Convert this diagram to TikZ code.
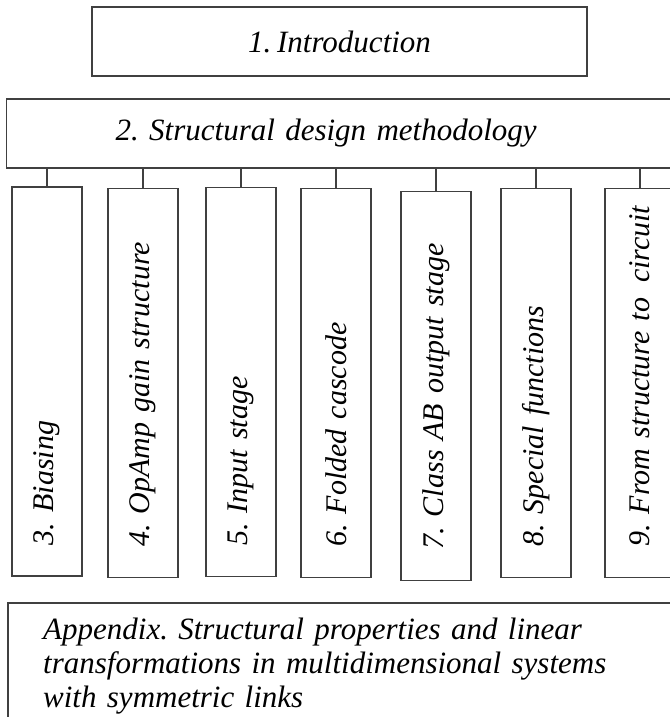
\documentclass[tikz,border=0pt]{standalone}
\usepackage{fontspec}
\setmainfont[WordSpace=0.75]{Liberation Serif}
\frenchspacing
\tikzset{
  frame/.style={draw=black!75,line width=1.3pt},
  chapbox/.style={frame,rotate=90,minimum height=70pt,text width=389pt,
    inner xsep=0pt,align=left,font=\itshape\fontsize{30}{34}\selectfont,
    execute at begin node=\hspace*{31pt}},
}
\begin{document}
\begin{tikzpicture}[x=1pt,y=-1pt,font=\itshape\fontsize{31}{34}\selectfont]
   \useasboundingbox (0,0) rectangle (669,717);
   \node (intro) [frame,minimum width=495pt,minimum height=69pt] at (339.5,41.5) {1. Introduction};
   \node (method) [frame,anchor=west,minimum height=69pt,inner xsep=109pt,
     text width=600pt,align=left] at (6,133.5) {2. Structural design methodology};
   \foreach \x/\y/\n/\l in
     { 47/381.5/3/{3. Biasing},
      143/383/4/{4. OpAmp gain structure},
      241/382/5/{5. Input stage},
      336/383/6/{6. Folded cascode},
      436/386/7/{7. Class AB output stage},
      536/383/8/{8. Special functions},
      640/383/9/{9. From structure to~\,circuit}
     }
     {
     \node (ch\n) [chapbox] at (\x,\y) {\mbox{\l}};
     \draw[frame] (ch\n.east) -- (ch\n.east |- method.south);
     }
   \node (appx) [anchor=north west,inner xsep=35pt,inner ysep=15pt,text width=600pt,
     align=left] at (8,603)
     {Appendix. Structural properties and linear\\
      transformations in multidimensional systems\\
      with symmetric links};
   \draw[frame] (appx.north west) rectangle ++(700,150);
\end{tikzpicture}
\end{document}
